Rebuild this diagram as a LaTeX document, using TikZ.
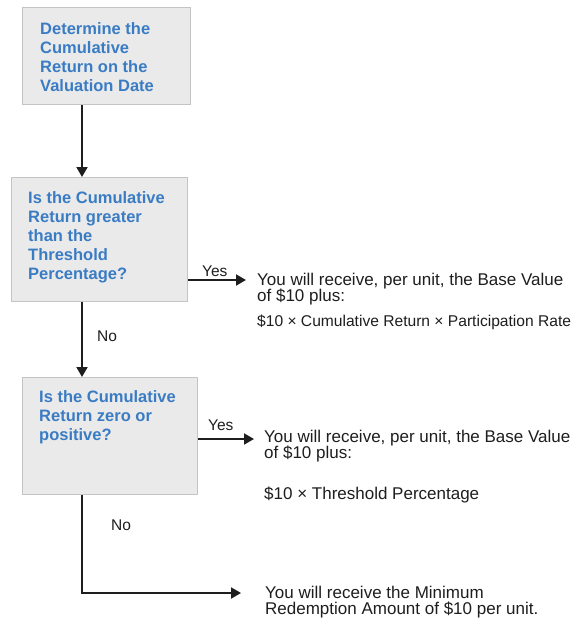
\documentclass[tikz,border=0pt]{standalone}
\usepackage{fontspec}
\setmainfont{Liberation Sans}
\usetikzlibrary{arrows.meta}
\definecolor{boxfill}{RGB}{234,234,234}
\definecolor{boxline}{RGB}{196,196,196}
\definecolor{boxtext}{RGB}{58,124,196}
\definecolor{ink}{RGB}{30,30,30}
\tikzset{
  box/.style={draw=boxline, line width=1.3pt, fill=boxfill, anchor=north west, inner sep=0pt},
  boxtxt/.style={anchor=base west, align=left, inner sep=0pt, text=boxtext,
    font={\fontsize{16.5}{19}\selectfont\bfseries}},
  outtxt/.style={anchor=base west, align=left, inner sep=0pt, text=ink,
    font={\fontsize{17}{16}\selectfont\lineskiplimit=-20pt}},
  lbl/.style={anchor=base west, inner sep=0pt, text=ink, font={\fontsize{15.5}{18}\selectfont}},
  arr/.style={draw=ink, line width=1.9pt, -{Triangle[length=10pt,width=11pt]}},
}
\begin{document}
\begin{tikzpicture}[x=1pt,y=-1pt]
\useasboundingbox (0,0) rectangle (574,621);
\fill[white] (0,0) rectangle (574,621);
% boxes
\node[box, minimum width=168, minimum height=97] (b1) at (22,7) {};
\node[box, minimum width=176, minimum height=124] (b2) at (11,177) {};
\node[box, minimum width=175, minimum height=117] (b3) at (22,377) {};
% box texts (anchored at the baseline of the last line)
\node[boxtxt] (b1t) at (40,91) {Determine the\\Cumulative\\Return on the\\Valuation Date};
\node[boxtxt] (b2t) at (28,279) {Is the Cumulative\\Return greater\\than the\\Threshold\\Percentage?};
\node[boxtxt] (b3t) at (39,440) {Is the Cumulative\\Return zero or\\positive?};
% outcome texts
\node[outtxt] (o1) at (257,301) {You will receive, per unit, the Base Value\\of \$10 plus:};
\node[outtxt, font={\fontsize{15.6}{16}\selectfont}] (o1f) at (257,326) {\$10 × Cumulative Return × Participation Rate};
\node[outtxt] (o2) at (264,458) {You will receive, per unit, the Base Value\\of \$10 plus:};
\node[outtxt] (o2f) at (264,499) {\$10 × Threshold Percentage};
\node[outtxt] (o3) at (265,614) {You will receive the Minimum\\Redemption Amount of \$10 per unit.};
% labels
\node[lbl] (l1) at (202,276) {Yes};
\node[lbl] (l2) at (97,341) {No};
\node[lbl] (l3) at (208,430) {Yes};
\node[lbl] (l4) at (111,530) {No};
% connector coordinates
\coordinate (cx) at (82,0);
\coordinate (e1) at (246,280);
\coordinate (e2) at (254,439);
\coordinate (e3) at (241,593);
% connectors
\draw[arr] (b1.south -| cx) -- (b2.north -| cx);
\draw[arr] (b2.east |- e1) -- (e1);
\draw[arr] (b2.south -| cx) -- (b3.north -| cx);
\draw[arr] (b3.east |- e2) -- (e2);
\draw[arr] (b3.south -| cx) |- (e3);
\end{tikzpicture}
\end{document}
